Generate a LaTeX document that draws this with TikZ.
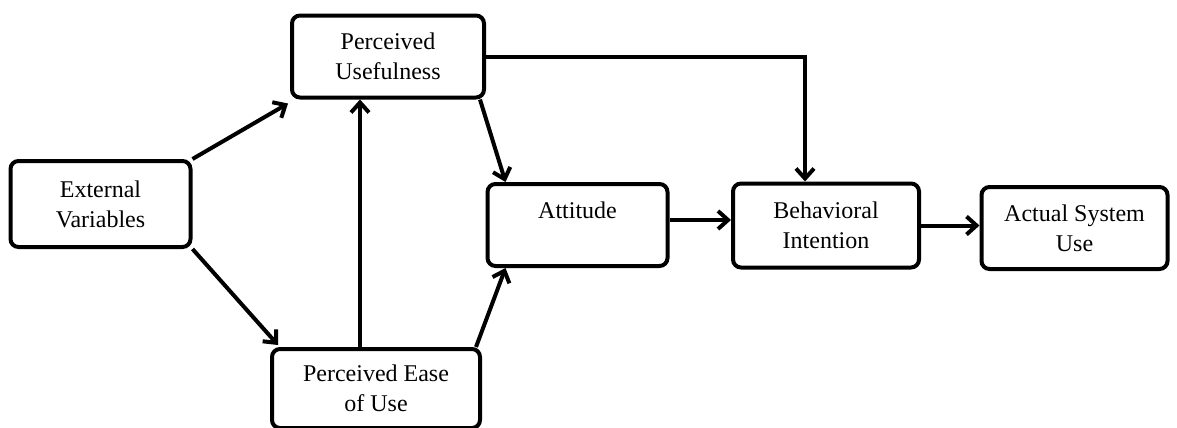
\documentclass[tikz,border=0pt]{standalone}
\usepackage{fontspec}
\setmainfont{Liberation Serif}
\usetikzlibrary{arrows.meta}

\begin{document}
\begin{tikzpicture}[x=0.5pt,y=-0.5pt]
\tikzstyle{box}=[draw=black, line width=2pt, rounded corners=4pt, align=center, inner sep=0pt, font=\fontsize{12}{15}\selectfont]
\tikzstyle{arr}=[draw=black, line width=2pt, -{Straight Barb[length=5pt,width=9pt]}]
\useasboundingbox (0,0) rectangle (1177,428);
% constructs
\node [box, minimum width=90pt, minimum height=43pt] (ev) at (100.5,204) {External\\Variables};
\node [box, minimum width=96pt, minimum height=41pt] (pu) at (388,56.5) {Perceived\\Usefulness};
\node [box, minimum width=104pt, minimum height=39.5pt] (peou) at (376,388.5) {Perceived Ease\\of Use};
\node [box, minimum width=90pt, minimum height=41pt] (att) at (577.5,225) {Attitude\\ \mbox{}};
\node [box, minimum width=93pt, minimum height=42pt] (bi) at (826,225.5) {Behavioral\\Intention};
\node [box, minimum width=93pt, minimum height=41pt] (asu) at (1074.5,228) {Actual System\\Use};
% links
\draw [arr] (ev.north east) -- ([xshift=-1pt,yshift=-2pt]pu.south west);
\draw [arr] (ev.south east) -- ([xshift=4pt,yshift=1pt]peou.north west);
\draw [arr] ([xshift=-8pt]peou.north) -- ([xshift=-8pt]peou.north |- pu.south);
\draw [arr] ([xshift=-3pt]pu.south east) -- ([xshift=10pt]att.north west);
\draw [arr] ([xshift=-3pt]peou.north east) -- ([xshift=10pt]att.south west);
\draw [arr] ([yshift=2.5pt]att.east) -- ([yshift=2.5pt]att.east -| bi.west);
\draw [arr] (bi.east) -- (bi.east -| asu.west);
\draw [arr] (pu.east) -| ([xshift=-10.5pt]bi.north);
\end{tikzpicture}
\end{document}
